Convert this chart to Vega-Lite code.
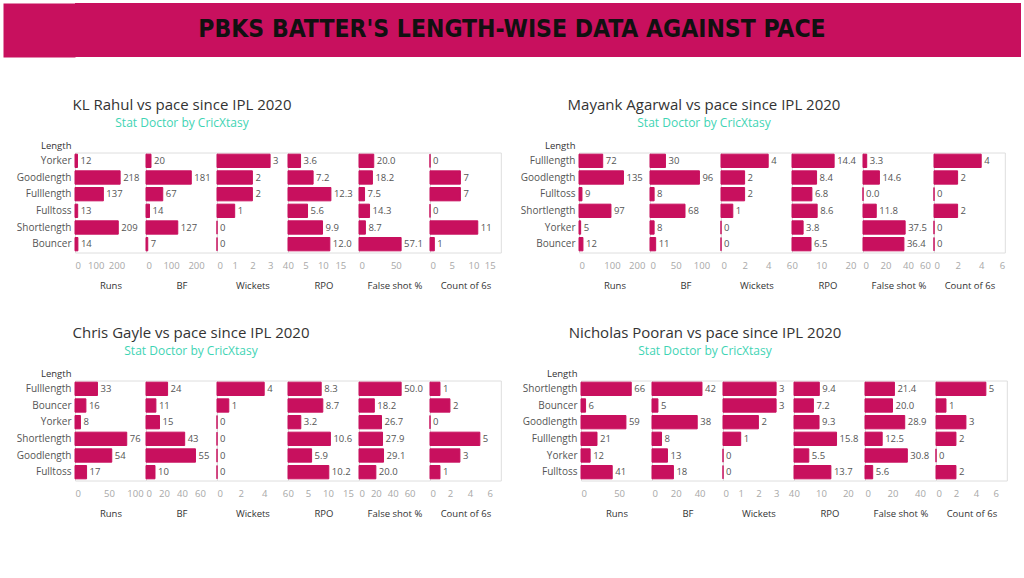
{
  "$schema": "https://vega.github.io/schema/vega-lite/v6.json",
  "background": "white",
  "padding": {"left": 3, "top": 3, "right": 3, "bottom": 3},
  "datasets": {
    "pbks": [
      {"player": "KL Rahul", "length": "Yorker", "Runs": 12, "BF": 20, "Wickets": 3, "RPO": 3.6, "FalseShot": 20.0, "Sixes": 0},
      {"player": "KL Rahul", "length": "Goodlength", "Runs": 218, "BF": 181, "Wickets": 2, "RPO": 7.2, "FalseShot": 18.2, "Sixes": 7},
      {"player": "KL Rahul", "length": "Fulllength", "Runs": 137, "BF": 67, "Wickets": 2, "RPO": 12.3, "FalseShot": 7.5, "Sixes": 7},
      {"player": "KL Rahul", "length": "Fulltoss", "Runs": 13, "BF": 14, "Wickets": 1, "RPO": 5.6, "FalseShot": 14.3, "Sixes": 0},
      {"player": "KL Rahul", "length": "Shortlength", "Runs": 209, "BF": 127, "Wickets": 0, "RPO": 9.9, "FalseShot": 8.7, "Sixes": 11},
      {"player": "KL Rahul", "length": "Bouncer", "Runs": 14, "BF": 7, "Wickets": 0, "RPO": 12.0, "FalseShot": 57.1, "Sixes": 1},
      {"player": "Mayank Agarwal", "length": "Fulllength", "Runs": 72, "BF": 30, "Wickets": 4, "RPO": 14.4, "FalseShot": 3.3, "Sixes": 4},
      {"player": "Mayank Agarwal", "length": "Goodlength", "Runs": 135, "BF": 96, "Wickets": 2, "RPO": 8.4, "FalseShot": 14.6, "Sixes": 2},
      {"player": "Mayank Agarwal", "length": "Fulltoss", "Runs": 9, "BF": 8, "Wickets": 2, "RPO": 6.8, "FalseShot": 0.0, "Sixes": 0},
      {"player": "Mayank Agarwal", "length": "Shortlength", "Runs": 97, "BF": 68, "Wickets": 1, "RPO": 8.6, "FalseShot": 11.8, "Sixes": 2},
      {"player": "Mayank Agarwal", "length": "Yorker", "Runs": 5, "BF": 8, "Wickets": 0, "RPO": 3.8, "FalseShot": 37.5, "Sixes": 0},
      {"player": "Mayank Agarwal", "length": "Bouncer", "Runs": 12, "BF": 11, "Wickets": 0, "RPO": 6.5, "FalseShot": 36.4, "Sixes": 0},
      {"player": "Chris Gayle", "length": "Fulllength", "Runs": 33, "BF": 24, "Wickets": 4, "RPO": 8.3, "FalseShot": 50.0, "Sixes": 1},
      {"player": "Chris Gayle", "length": "Bouncer", "Runs": 16, "BF": 11, "Wickets": 1, "RPO": 8.7, "FalseShot": 18.2, "Sixes": 2},
      {"player": "Chris Gayle", "length": "Yorker", "Runs": 8, "BF": 15, "Wickets": 0, "RPO": 3.2, "FalseShot": 26.7, "Sixes": 0},
      {"player": "Chris Gayle", "length": "Shortlength", "Runs": 76, "BF": 43, "Wickets": 0, "RPO": 10.6, "FalseShot": 27.9, "Sixes": 5},
      {"player": "Chris Gayle", "length": "Goodlength", "Runs": 54, "BF": 55, "Wickets": 0, "RPO": 5.9, "FalseShot": 29.1, "Sixes": 3},
      {"player": "Chris Gayle", "length": "Fulltoss", "Runs": 17, "BF": 10, "Wickets": 0, "RPO": 10.2, "FalseShot": 20.0, "Sixes": 1},
      {"player": "Nicholas Pooran", "length": "Shortlength", "Runs": 66, "BF": 42, "Wickets": 3, "RPO": 9.4, "FalseShot": 21.4, "Sixes": 5},
      {"player": "Nicholas Pooran", "length": "Bouncer", "Runs": 6, "BF": 5, "Wickets": 3, "RPO": 7.2, "FalseShot": 20.0, "Sixes": 1},
      {"player": "Nicholas Pooran", "length": "Goodlength", "Runs": 59, "BF": 38, "Wickets": 2, "RPO": 9.3, "FalseShot": 28.9, "Sixes": 3},
      {"player": "Nicholas Pooran", "length": "Fulllength", "Runs": 21, "BF": 8, "Wickets": 1, "RPO": 15.8, "FalseShot": 12.5, "Sixes": 2},
      {"player": "Nicholas Pooran", "length": "Yorker", "Runs": 12, "BF": 13, "Wickets": 0, "RPO": 5.5, "FalseShot": 30.8, "Sixes": 0},
      {"player": "Nicholas Pooran", "length": "Fulltoss", "Runs": 41, "BF": 18, "Wickets": 0, "RPO": 13.7, "FalseShot": 5.6, "Sixes": 2}
    ]
  },
  "data": {"name": "pbks"},
  "config": {
    "font": "Open Sans",
    "view": {"stroke": "#dedede", "strokeWidth": 1},
    "scale": {"bandPaddingInner": 0.2, "bandPaddingOuter": 0.1},
    "axis": {"domain": false, "ticks": false, "grid": false, "labelFont": "Open Sans", "titleFont": "Open Sans"},
    "axisX": {"labelColor": "#a8a8a8", "labelFontSize": 9.5, "labelPadding": 8, "labelFlush": 6, "labelOverlap": false, "titleFontSize": 9.5, "titleFontWeight": "normal", "titleColor": "#333333", "titlePadding": 10},
    "axisY": {"labelColor": "#555555", "labelFontSize": 10, "labelPadding": 4, "titleFontSize": 9.5, "titleFontWeight": "normal", "titleColor": "#333333"},
    "title": {"font": "Open Sans", "fontSize": 15, "fontWeight": "normal", "color": "#333333", "subtitleFont": "Open Sans", "subtitleFontSize": 12, "subtitleColor": "#3fd4b4", "subtitlePadding": 5, "anchor": "start", "align": "center", "frame": "group", "offset": 11.5},
    "bar": {"color": "#c8105e", "stroke": "#c8105e", "strokeWidth": 1},
    "text": {"align": "left", "dx": 3, "baseline": "middle", "fontSize": 9.5, "color": "#555555"}
  },
  "columns": 1,
  "align": "none",
  "spacing": 40.5,
  "concat": [
    {
      "data": {"values": [{"t": "PBKS BATTER'S LENGTH-WISE DATA AGAINST PACE"}]},
      "width": 946,
      "height": 54,
      "view": {"fill": "#c8105e", "stroke": null},
      "mark": {"type": "text", "font": "DejaVu Sans Condensed", "fontWeight": "bold", "fontSize": 24.5, "color": "#111111", "align": "center", "baseline": "middle", "dx": -36},
      "encoding": {
        "text": {"field": "t"},
        "y": {"field": "t", "type": "nominal", "scale": {"paddingOuter": 0, "paddingInner": 0}, "axis": {"labels": false, "ticks": false, "title": null, "domain": true, "domainColor": "#c8105e", "domainWidth": 72, "domainCap": "butt", "offset": 36}}
      }
    },
    {
      "columns": 1,
      "align": "none",
      "spacing": 35,
      "concat": [
        {
          "spacing": 10,
          "hconcat": [
            {
              "title": {"text": "KL Rahul vs pace since IPL 2020", "subtitle": "Stat Doctor by CricXtasy", "anchor": "start", "align": "center", "dx": 107},
              "bounds": "flush",
              "spacing": 0,
              "hconcat": [
                {"width": 70.8, "height": 100, "transform": [{"filter": "datum.player === 'KL Rahul'"}],
                 "encoding": {"y": {"field": "length", "type": "nominal", "sort": ["Yorker", "Goodlength", "Fulllength", "Fulltoss", "Shortlength", "Bouncer"], "axis": {"title": "Length", "titleAngle": 0, "titleAlign": "right", "titleBaseline": "bottom", "titleX": -4, "titleY": -2, "minExtent": 71}},
                   "x": {"field": "Runs", "type": "quantitative", "scale": {"domain": [0, 342], "nice": false}, "axis": {"title": "Runs", "values": [0, 100, 200]}}},
                 "layer": [{"mark": "bar"}, {"mark": "text", "encoding": {"text": {"field": "Runs", "format": "d"}}}]},
                {"width": 70.8, "height": 100, "transform": [{"filter": "datum.player === 'KL Rahul'"}],
                 "encoding": {"y": {"field": "length", "type": "nominal", "sort": ["Yorker", "Goodlength", "Fulllength", "Fulltoss", "Shortlength", "Bouncer"], "axis": null},
                   "x": {"field": "BF", "type": "quantitative", "scale": {"domain": [0, 283], "nice": false}, "axis": {"title": "BF", "values": [0, 100, 200]}}},
                 "layer": [{"mark": "bar"}, {"mark": "text", "encoding": {"text": {"field": "BF", "format": "d"}}}]},
                {"width": 70.8, "height": 100, "transform": [{"filter": "datum.player === 'KL Rahul'"}],
                 "encoding": {"y": {"field": "length", "type": "nominal", "sort": ["Yorker", "Goodlength", "Fulllength", "Fulltoss", "Shortlength", "Bouncer"], "axis": null},
                   "x": {"field": "Wickets", "type": "quantitative", "scale": {"domain": [0, 4], "nice": false}, "axis": {"title": "Wickets", "values": [0, 1, 2, 3, 4]}}},
                 "layer": [{"mark": "bar"}, {"mark": "text", "encoding": {"text": {"field": "Wickets", "format": "d"}}}]},
                {"width": 70.8, "height": 100, "transform": [{"filter": "datum.player === 'KL Rahul'"}],
                 "encoding": {"y": {"field": "length", "type": "nominal", "sort": ["Yorker", "Goodlength", "Fulllength", "Fulltoss", "Shortlength", "Bouncer"], "axis": null},
                   "x": {"field": "RPO", "type": "quantitative", "scale": {"domain": [0, 20.3], "nice": false}, "axis": {"title": "RPO", "values": [0, 5, 10, 15]}}},
                 "layer": [{"mark": "bar"}, {"mark": "text", "encoding": {"text": {"field": "RPO", "format": ".1f"}}}]},
                {"width": 70.8, "height": 100, "transform": [{"filter": "datum.player === 'KL Rahul'"}],
                 "encoding": {"y": {"field": "length", "type": "nominal", "sort": ["Yorker", "Goodlength", "Fulllength", "Fulltoss", "Shortlength", "Bouncer"], "axis": null},
                   "x": {"field": "FalseShot", "type": "quantitative", "scale": {"domain": [0, 96], "nice": false}, "axis": {"title": "False shot %", "values": [0, 50]}}},
                 "layer": [{"mark": "bar"}, {"mark": "text", "encoding": {"text": {"field": "FalseShot", "format": ".1f"}}}]},
                {"width": 70.8, "height": 100, "transform": [{"filter": "datum.player === 'KL Rahul'"}],
                 "encoding": {"y": {"field": "length", "type": "nominal", "sort": ["Yorker", "Goodlength", "Fulllength", "Fulltoss", "Shortlength", "Bouncer"], "axis": null},
                   "x": {"field": "Sixes", "type": "quantitative", "scale": {"domain": [0, 16.3], "nice": false}, "axis": {"title": "Count of 6s", "values": [0, 5, 10, 15]}}},
                 "layer": [{"mark": "bar"}, {"mark": "text", "encoding": {"text": {"field": "Sixes", "format": "d"}}}]}
              ]
            },
            {
              "title": {"text": "Mayank Agarwal vs pace since IPL 2020", "subtitle": "Stat Doctor by CricXtasy", "anchor": "start", "align": "center", "dx": 125},
              "bounds": "flush",
              "spacing": 0,
              "hconcat": [
                {"width": 70.8, "height": 100, "transform": [{"filter": "datum.player === 'Mayank Agarwal'"}],
                 "encoding": {"y": {"field": "length", "type": "nominal", "sort": ["Fulllength", "Goodlength", "Fulltoss", "Shortlength", "Yorker", "Bouncer"], "axis": {"title": "Length", "titleAngle": 0, "titleAlign": "right", "titleBaseline": "bottom", "titleX": -4, "titleY": -2, "minExtent": 66}},
                   "x": {"field": "Runs", "type": "quantitative", "scale": {"domain": [0, 215], "nice": false}, "axis": {"title": "Runs", "values": [0, 100, 200]}}},
                 "layer": [{"mark": "bar"}, {"mark": "text", "encoding": {"text": {"field": "Runs", "format": "d"}}}]},
                {"width": 70.8, "height": 100, "transform": [{"filter": "datum.player === 'Mayank Agarwal'"}],
                 "encoding": {"y": {"field": "length", "type": "nominal", "sort": ["Fulllength", "Goodlength", "Fulltoss", "Shortlength", "Yorker", "Bouncer"], "axis": null},
                   "x": {"field": "BF", "type": "quantitative", "scale": {"domain": [0, 137.5], "nice": false}, "axis": {"title": "BF", "values": [0, 50, 100]}}},
                 "layer": [{"mark": "bar"}, {"mark": "text", "encoding": {"text": {"field": "BF", "format": "d"}}}]},
                {"width": 70.8, "height": 100, "transform": [{"filter": "datum.player === 'Mayank Agarwal'"}],
                 "encoding": {"y": {"field": "length", "type": "nominal", "sort": ["Fulllength", "Goodlength", "Fulltoss", "Shortlength", "Yorker", "Bouncer"], "axis": null},
                   "x": {"field": "Wickets", "type": "quantitative", "scale": {"domain": [0, 6], "nice": false}, "axis": {"title": "Wickets", "values": [0, 2, 4, 6]}}},
                 "layer": [{"mark": "bar"}, {"mark": "text", "encoding": {"text": {"field": "Wickets", "format": "d"}}}]},
                {"width": 70.8, "height": 100, "transform": [{"filter": "datum.player === 'Mayank Agarwal'"}],
                 "encoding": {"y": {"field": "length", "type": "nominal", "sort": ["Fulllength", "Goodlength", "Fulltoss", "Shortlength", "Yorker", "Bouncer"], "axis": null},
                   "x": {"field": "RPO", "type": "quantitative", "scale": {"domain": [0, 24.2], "nice": false}, "axis": {"title": "RPO", "values": [0, 10, 20]}}},
                 "layer": [{"mark": "bar"}, {"mark": "text", "encoding": {"text": {"field": "RPO", "format": ".1f"}}}]},
                {"width": 70.8, "height": 100, "transform": [{"filter": "datum.player === 'Mayank Agarwal'"}],
                 "encoding": {"y": {"field": "length", "type": "nominal", "sort": ["Fulllength", "Goodlength", "Fulltoss", "Shortlength", "Yorker", "Bouncer"], "axis": null},
                   "x": {"field": "FalseShot", "type": "quantitative", "scale": {"domain": [0, 63], "nice": false}, "axis": {"title": "False shot %", "values": [0, 20, 40, 60]}}},
                 "layer": [{"mark": "bar"}, {"mark": "text", "encoding": {"text": {"field": "FalseShot", "format": ".1f"}}}]},
                {"width": 70.8, "height": 100, "transform": [{"filter": "datum.player === 'Mayank Agarwal'"}],
                 "encoding": {"y": {"field": "length", "type": "nominal", "sort": ["Fulllength", "Goodlength", "Fulltoss", "Shortlength", "Yorker", "Bouncer"], "axis": null},
                   "x": {"field": "Sixes", "type": "quantitative", "scale": {"domain": [0, 6], "nice": false}, "axis": {"title": "Count of 6s", "values": [0, 2, 4, 6]}}},
                 "layer": [{"mark": "bar"}, {"mark": "text", "encoding": {"text": {"field": "Sixes", "format": "d"}}}]}
              ]
            }
          ]
        },
        {
          "spacing": 12,
          "hconcat": [
            {
              "title": {"text": "Chris Gayle vs pace since IPL 2020", "subtitle": "Stat Doctor by CricXtasy", "anchor": "start", "align": "center", "dx": 116},
              "bounds": "flush",
              "spacing": 0,
              "hconcat": [
                {"width": 70.8, "height": 100, "transform": [{"filter": "datum.player === 'Chris Gayle'"}],
                 "encoding": {"y": {"field": "length", "type": "nominal", "sort": ["Fulllength", "Bouncer", "Yorker", "Shortlength", "Goodlength", "Fulltoss"], "axis": {"title": "Length", "titleAngle": 0, "titleAlign": "right", "titleBaseline": "bottom", "titleX": -4, "titleY": -2, "minExtent": 71}},
                   "x": {"field": "Runs", "type": "quantitative", "scale": {"domain": [0, 104], "nice": false}, "axis": {"title": "Runs", "values": [0, 50, 100]}}},
                 "layer": [{"mark": "bar"}, {"mark": "text", "encoding": {"text": {"field": "Runs", "format": "d"}}}]},
                {"width": 70.8, "height": 100, "transform": [{"filter": "datum.player === 'Chris Gayle'"}],
                 "encoding": {"y": {"field": "length", "type": "nominal", "sort": ["Fulllength", "Bouncer", "Yorker", "Shortlength", "Goodlength", "Fulltoss"], "axis": null},
                   "x": {"field": "BF", "type": "quantitative", "scale": {"domain": [0, 78.7], "nice": false}, "axis": {"title": "BF", "values": [0, 20, 40, 60]}}},
                 "layer": [{"mark": "bar"}, {"mark": "text", "encoding": {"text": {"field": "BF", "format": "d"}}}]},
                {"width": 70.8, "height": 100, "transform": [{"filter": "datum.player === 'Chris Gayle'"}],
                 "encoding": {"y": {"field": "length", "type": "nominal", "sort": ["Fulllength", "Bouncer", "Yorker", "Shortlength", "Goodlength", "Fulltoss"], "axis": null},
                   "x": {"field": "Wickets", "type": "quantitative", "scale": {"domain": [0, 6], "nice": false}, "axis": {"title": "Wickets", "values": [0, 2, 4, 6]}}},
                 "layer": [{"mark": "bar"}, {"mark": "text", "encoding": {"text": {"field": "Wickets", "format": "d"}}}]},
                {"width": 70.8, "height": 100, "transform": [{"filter": "datum.player === 'Chris Gayle'"}],
                 "encoding": {"y": {"field": "length", "type": "nominal", "sort": ["Fulllength", "Bouncer", "Yorker", "Shortlength", "Goodlength", "Fulltoss"], "axis": null},
                   "x": {"field": "RPO", "type": "quantitative", "scale": {"domain": [0, 17.7], "nice": false}, "axis": {"title": "RPO", "values": [0, 5, 10, 15]}}},
                 "layer": [{"mark": "bar"}, {"mark": "text", "encoding": {"text": {"field": "RPO", "format": ".1f"}}}]},
                {"width": 70.8, "height": 100, "transform": [{"filter": "datum.player === 'Chris Gayle'"}],
                 "encoding": {"y": {"field": "length", "type": "nominal", "sort": ["Fulllength", "Bouncer", "Yorker", "Shortlength", "Goodlength", "Fulltoss"], "axis": null},
                   "x": {"field": "FalseShot", "type": "quantitative", "scale": {"domain": [0, 84], "nice": false}, "axis": {"title": "False shot %", "values": [0, 20, 40, 60]}}},
                 "layer": [{"mark": "bar"}, {"mark": "text", "encoding": {"text": {"field": "FalseShot", "format": ".1f"}}}]},
                {"width": 70.8, "height": 100, "transform": [{"filter": "datum.player === 'Chris Gayle'"}],
                 "encoding": {"y": {"field": "length", "type": "nominal", "sort": ["Fulllength", "Bouncer", "Yorker", "Shortlength", "Goodlength", "Fulltoss"], "axis": null},
                   "x": {"field": "Sixes", "type": "quantitative", "scale": {"domain": [0, 7.1], "nice": false}, "axis": {"title": "Count of 6s", "values": [0, 2, 4, 6]}}},
                 "layer": [{"mark": "bar"}, {"mark": "text", "encoding": {"text": {"field": "Sixes", "format": "d"}}}]}
              ]
            },
            {
              "title": {"text": "Nicholas Pooran vs pace since IPL 2020", "subtitle": "Stat Doctor by CricXtasy", "anchor": "start", "align": "center", "dx": 124},
              "bounds": "flush",
              "spacing": 0,
              "hconcat": [
                {"width": 70.8, "height": 100, "transform": [{"filter": "datum.player === 'Nicholas Pooran'"}],
                 "encoding": {"y": {"field": "length", "type": "nominal", "sort": ["Shortlength", "Bouncer", "Goodlength", "Fulllength", "Yorker", "Fulltoss"], "axis": {"title": "Length", "titleAngle": 0, "titleAlign": "right", "titleBaseline": "bottom", "titleX": -4, "titleY": -2, "minExtent": 66}},
                   "x": {"field": "Runs", "type": "quantitative", "scale": {"domain": [0, 93], "nice": false}, "axis": {"title": "Runs", "values": [0, 50]}}},
                 "layer": [{"mark": "bar"}, {"mark": "text", "encoding": {"text": {"field": "Runs", "format": "d"}}}]},
                {"width": 70.8, "height": 100, "transform": [{"filter": "datum.player === 'Nicholas Pooran'"}],
                 "encoding": {"y": {"field": "length", "type": "nominal", "sort": ["Shortlength", "Bouncer", "Goodlength", "Fulllength", "Yorker", "Fulltoss"], "axis": null},
                   "x": {"field": "BF", "type": "quantitative", "scale": {"domain": [0, 59.5], "nice": false}, "axis": {"title": "BF", "values": [0, 20, 40]}}},
                 "layer": [{"mark": "bar"}, {"mark": "text", "encoding": {"text": {"field": "BF", "format": "d"}}}]},
                {"width": 70.8, "height": 100, "transform": [{"filter": "datum.player === 'Nicholas Pooran'"}],
                 "encoding": {"y": {"field": "length", "type": "nominal", "sort": ["Shortlength", "Bouncer", "Goodlength", "Fulllength", "Yorker", "Fulltoss"], "axis": null},
                   "x": {"field": "Wickets", "type": "quantitative", "scale": {"domain": [0, 4], "nice": false}, "axis": {"title": "Wickets", "values": [0, 1, 2, 3, 4]}}},
                 "layer": [{"mark": "bar"}, {"mark": "text", "encoding": {"text": {"field": "Wickets", "format": "d"}}}]},
                {"width": 70.8, "height": 100, "transform": [{"filter": "datum.player === 'Nicholas Pooran'"}],
                 "encoding": {"y": {"field": "length", "type": "nominal", "sort": ["Shortlength", "Bouncer", "Goodlength", "Fulllength", "Yorker", "Fulltoss"], "axis": null},
                   "x": {"field": "RPO", "type": "quantitative", "scale": {"domain": [0, 26.3], "nice": false}, "axis": {"title": "RPO", "values": [0, 10, 20]}}},
                 "layer": [{"mark": "bar"}, {"mark": "text", "encoding": {"text": {"field": "RPO", "format": ".1f"}}}]},
                {"width": 70.8, "height": 100, "transform": [{"filter": "datum.player === 'Nicholas Pooran'"}],
                 "encoding": {"y": {"field": "length", "type": "nominal", "sort": ["Shortlength", "Bouncer", "Goodlength", "Fulllength", "Yorker", "Fulltoss"], "axis": null},
                   "x": {"field": "FalseShot", "type": "quantitative", "scale": {"domain": [0, 51.5], "nice": false}, "axis": {"title": "False shot %", "values": [0, 20, 40]}}},
                 "layer": [{"mark": "bar"}, {"mark": "text", "encoding": {"text": {"field": "FalseShot", "format": ".1f"}}}]},
                {"width": 70.8, "height": 100, "transform": [{"filter": "datum.player === 'Nicholas Pooran'"}],
                 "encoding": {"y": {"field": "length", "type": "nominal", "sort": ["Shortlength", "Bouncer", "Goodlength", "Fulllength", "Yorker", "Fulltoss"], "axis": null},
                   "x": {"field": "Sixes", "type": "quantitative", "scale": {"domain": [0, 7.1], "nice": false}, "axis": {"title": "Count of 6s", "values": [0, 2, 4, 6]}}},
                 "layer": [{"mark": "bar"}, {"mark": "text", "encoding": {"text": {"field": "Sixes", "format": "d"}}}]}
              ]
            }
          ]
        }
      ]
    }
  ]
}
